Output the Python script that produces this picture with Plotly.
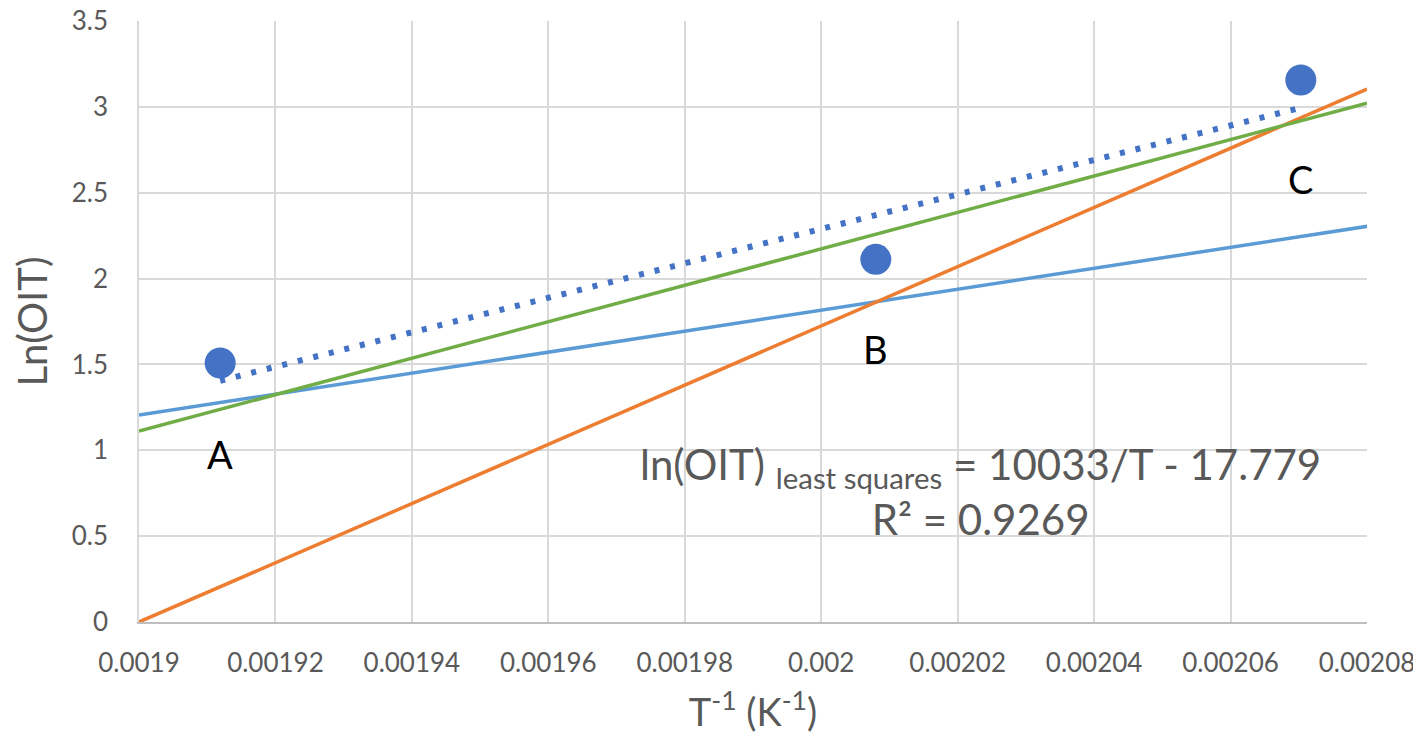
import plotly.graph_objects as go

# Data points (T^-1, ln(OIT))
pt_x = [0.0019119, 0.002008, 0.0020703]
pt_y = [1.508, 2.112, 3.156]
pt_labels = ["A", "B", "C"]
lbl_y = [0.98, 1.59, 2.58]

# Least-squares trendline endpoints (dotted)
trend_x = [0.0019119, 0.0020703]
trend_y = [1.405, 2.995]

# Other lines (endpoints)
blue_x = [0.0019, 0.0020823]
blue_y = [1.205, 2.318]
orange_x = [0.0019, 0.00208]
orange_y = [0.0, 3.104]
green_x = [0.0019, 0.00208]
green_y = [1.112, 3.022]

x_ticks = [0.0019 + 0.00002 * i for i in range(10)]
x_ticktext = ["0.0019", "0.00192", "0.00194", "0.00196", "0.00198", "0.002",
              "0.00202", "0.00204", "0.00206", "0.00208"]
y_ticks = [0, 0.5, 1, 1.5, 2, 2.5, 3, 3.5]
y_ticktext = ["0", "0.5", "1", "1.5", "2", "2.5", "3", "3.5"]

FONT = "Lato"
GRAY = "#595959"

fig = go.Figure()
fig.add_trace(go.Scatter(x=blue_x, y=blue_y, mode="lines",
                         line=dict(color="#5B9BD5", width=3.5), showlegend=False, cliponaxis=False))
fig.add_trace(go.Scatter(x=orange_x, y=orange_y, mode="lines",
                         line=dict(color="#ED7D31", width=3.5), showlegend=False))
fig.add_trace(go.Scatter(x=green_x, y=green_y, mode="lines",
                         line=dict(color="#70AD47", width=3.5), showlegend=False))
fig.add_trace(go.Scatter(x=trend_x, y=trend_y, mode="lines",
                         line=dict(color="#4472C4", width=6, dash="5px,11px"), showlegend=False))
fig.add_trace(go.Scatter(x=pt_x, y=pt_y, mode="markers",
                         marker=dict(color="#4472C4", size=31), showlegend=False))

for x, y, t in zip(pt_x, lbl_y, pt_labels):
    fig.add_annotation(x=x, y=y, text=t, showarrow=False,
                       font=dict(family=FONT, size=38, color="black"))

fig.add_annotation(x=0.0020234, y=0.76,
                   text="ln(OIT) <sub>least squares</sub> = 10033/T - 17.779<br>R² = 0.9269",
                   showarrow=False, align="center",
                   font=dict(family=FONT, size=42, color=GRAY))

fig.update_layout(
    width=1413, height=734,
    margin=dict(l=131, r=54, t=13, b=120),
    plot_bgcolor="white", paper_bgcolor="white",
    font=dict(family=FONT, color=GRAY),
    xaxis=dict(range=[0.0019, 0.00208], tickvals=x_ticks, ticktext=x_ticktext,
               showgrid=True, gridcolor="#D9D9D9", gridwidth=1.5,
               showline=True, linecolor="#BFBFBF", linewidth=1.5,
               zeroline=False, ticks="", ticklabelstandoff=17, automargin=False,
               ticklabeloverflow="allow",
               tickfont=dict(size=26, color=GRAY),
               title=dict(text="T<sup>-1</sup> (K<sup>-1</sup>)", standoff=22,
                          font=dict(size=38, color=GRAY))),
    yaxis=dict(range=[0, 3.5], tickvals=y_ticks, ticktext=y_ticktext,
               showgrid=True, gridcolor="#D9D9D9", gridwidth=1.5,
               showline=True, linecolor="#D9D9D9", linewidth=1.5,
               zeroline=False, ticks="", ticklabelstandoff=24, automargin=False,
               ticklabeloverflow="allow",
               tickfont=dict(size=26, color=GRAY),
               title=dict(text="Ln(OIT)", standoff=20,
                          font=dict(size=40, color=GRAY))),
)

fig.write_html("out.html")
